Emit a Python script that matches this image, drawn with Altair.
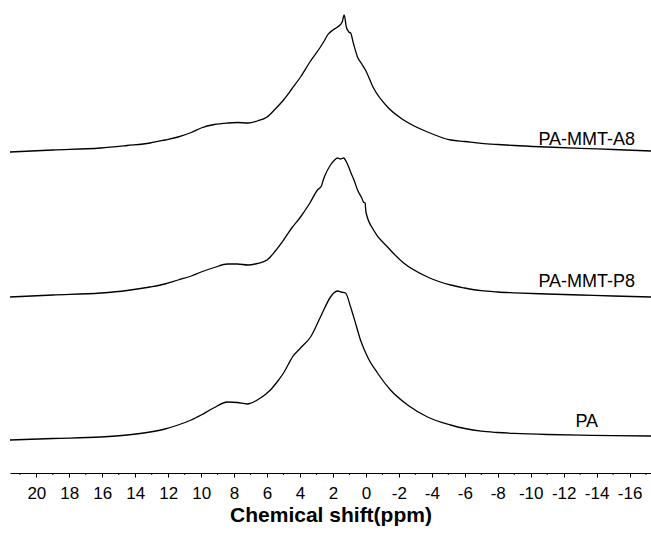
import altair as alt
import pandas as pd

# Chemical shift (ppm) and intensity above each trace's own baseline
pa_ppm = [21.6, 19.0, 16.1, 14.5, 13.1, 12.2, 11.4, 10.6, 10.0, 9.25, 8.4, 7.8, 7.2, 6.4,
          5.8, 5.3, 5.0, 4.7, 4.46, 3.97, 3.36, 2.76, 2.15, 1.95, 1.72, 1.5, 1.24, 0.93,
          0.6, 0.33, -0.10, -0.70, -1.49, -2.53, -3.74, -5.14, -6.0, -7.0, -8.0, -9.0,
          -11.0, -13.0, -15.0, -17.3]
pa_int = [0, 1.5, 3, 5, 8, 11, 15, 20, 25, 32, 38, 37.5, 36, 42,
          50, 60, 67, 76, 83, 92, 103, 123, 143, 147, 149, 148, 147, 133,
          115, 100, 83, 67, 50, 35, 23, 15, 11.5, 8.8, 7.5, 6.6,
          5.5, 4.9, 4.4, 4]

p8_ppm = [21.6, 19.0, 16.1, 14.5, 13.1, 12.2, 11.4, 10.6, 10.0, 9.2, 8.4, 7.8, 7.15, 6.6,
          6.0, 5.5, 5.0, 4.5, 3.97, 3.4, 2.94, 2.7, 2.63, 2.5, 2.15, 1.9, 1.72, 1.55, 1.36,
          1.15, 0.93, 0.7, 0.51, 0.25, 0.15, 0.05, 0.0, -0.46, -1.31, -2.29, -3.74,
          -5.14, -6.0, -7.0, -8.0, -9.0, -11.0, -13.0, -15.0, -17.3]
p8_int = [0, 2, 4, 6.5, 10, 13, 17, 21, 25, 29.5, 33, 33, 32, 33.5,
          37, 46, 57, 69, 80, 94, 107, 111, 115, 121, 132, 137, 139, 138, 139,
          134, 125, 116, 107, 99, 95, 94, 85, 67, 50, 34, 20,
          12, 9, 6.3, 5, 4.2, 3, 2, 1, 0]

a8_ppm = [21.6, 19.0, 16.1, 14.5, 13.1, 12.2, 11.4, 10.6, 10.0, 9.2, 8.4, 7.8, 7.15, 6.6,
          6.0, 5.5, 5.0, 4.5, 3.97, 3.4, 2.76, 2.5, 2.33, 2.0, 1.72, 1.44, 1.32, 1.19,
          1.04, 0.93, 0.75, 0.51, 0.25, 0.03, -0.46, -1.31, -2.29, -3.74, -5.14,
          -6.0, -7.0, -8.0, -9.0, -11.0, -13.0, -15.0, -17.3]
a8_int = [0, 2, 4, 6.5, 9, 12, 15, 19.5, 24, 27.5, 29, 29.5, 29, 31,
          35, 43, 52, 63, 75, 90, 105, 112, 117, 122, 125, 130, 137, 125,
          120, 119, 108, 95, 88, 82, 64, 45, 32, 20, 12,
          10.5, 8.7, 7.5, 6.5, 5, 3.7, 2.5, 1]

series_names = ["PA", "PA-MMT-P8", "PA-MMT-A8"]
series_offsets = [33, 176, 321]

rows = []
for name, off, xs, ys in zip(series_names, series_offsets,
                             [pa_ppm, p8_ppm, a8_ppm], [pa_int, p8_int, a8_int]):
    for i, (x, y) in enumerate(zip(xs, ys)):
        rows.append({"series": name, "order": i, "ppm": x, "signal": off + y})
spectra = pd.DataFrame(rows)

# Label anchors for each trace (ppm, stacked signal level)
labels = pd.DataFrame({
    "series": series_names,
    "ppm": [-13.4, -13.4, -13.4],
    "signal": [46, 186, 328],
})

major_ticks = list(range(-16, 21, 2))
minor_ticks = list(range(-17, 22, 2))

FONT = "Liberation Sans"

x_scale = alt.Scale(domain=[-17.3, 21.6], reverse=True, nice=False, zero=False)
y_scale = alt.Scale(domain=[0, 473], nice=False, zero=False)

# One shared axis definition, repeated on every layer so nothing conflicts
x_axis = alt.Axis(title="Chemical shift(ppm)", values=major_ticks,
                  labelExpr="'' + datum.value",
                  grid=False, tickSize=4, tickColor="black", tickWidth=1,
                  domainColor="black", domainWidth=1,
                  labelFont=FONT, labelFontSize=17, labelColor="black",
                  labelPadding=8, labelFlush=False, labelOverlap=False,
                  titleFont=FONT, titleFontSize=21, titleFontWeight="bold",
                  titleColor="black", titlePadding=3)

lines = alt.Chart(spectra).mark_line(
    color="black", strokeWidth=1.3, interpolate="monotone"
).encode(
    x=alt.X("ppm:Q", scale=x_scale, axis=x_axis),
    y=alt.Y("signal:Q", scale=y_scale, axis=None),
    detail="series:N",
    order="order:Q",
)

minor = alt.Chart(pd.DataFrame({"ppm": minor_ticks})).mark_rule(
    color="black", strokeWidth=1
).encode(
    x=alt.X("ppm:Q", scale=x_scale, axis=x_axis),
    y=alt.value(473),
    y2=alt.value(475),
)

text = alt.Chart(labels).mark_text(
    font=FONT, fontSize=18, color="black", align="center", baseline="alphabetic"
).encode(
    x=alt.X("ppm:Q", scale=x_scale, axis=x_axis),
    y=alt.Y("signal:Q", scale=y_scale, axis=None),
    text="series:N",
)

chart = alt.layer(lines, minor, text).properties(
    width=641, height=473,
    autosize=alt.AutoSizeParams(type="none"),
    padding={"left": 10, "right": 0, "top": 0, "bottom": 60},
    background="white",
).configure_view(stroke=None)

chart.save("out.html", embed_options={"renderer": "svg", "actions": False})
